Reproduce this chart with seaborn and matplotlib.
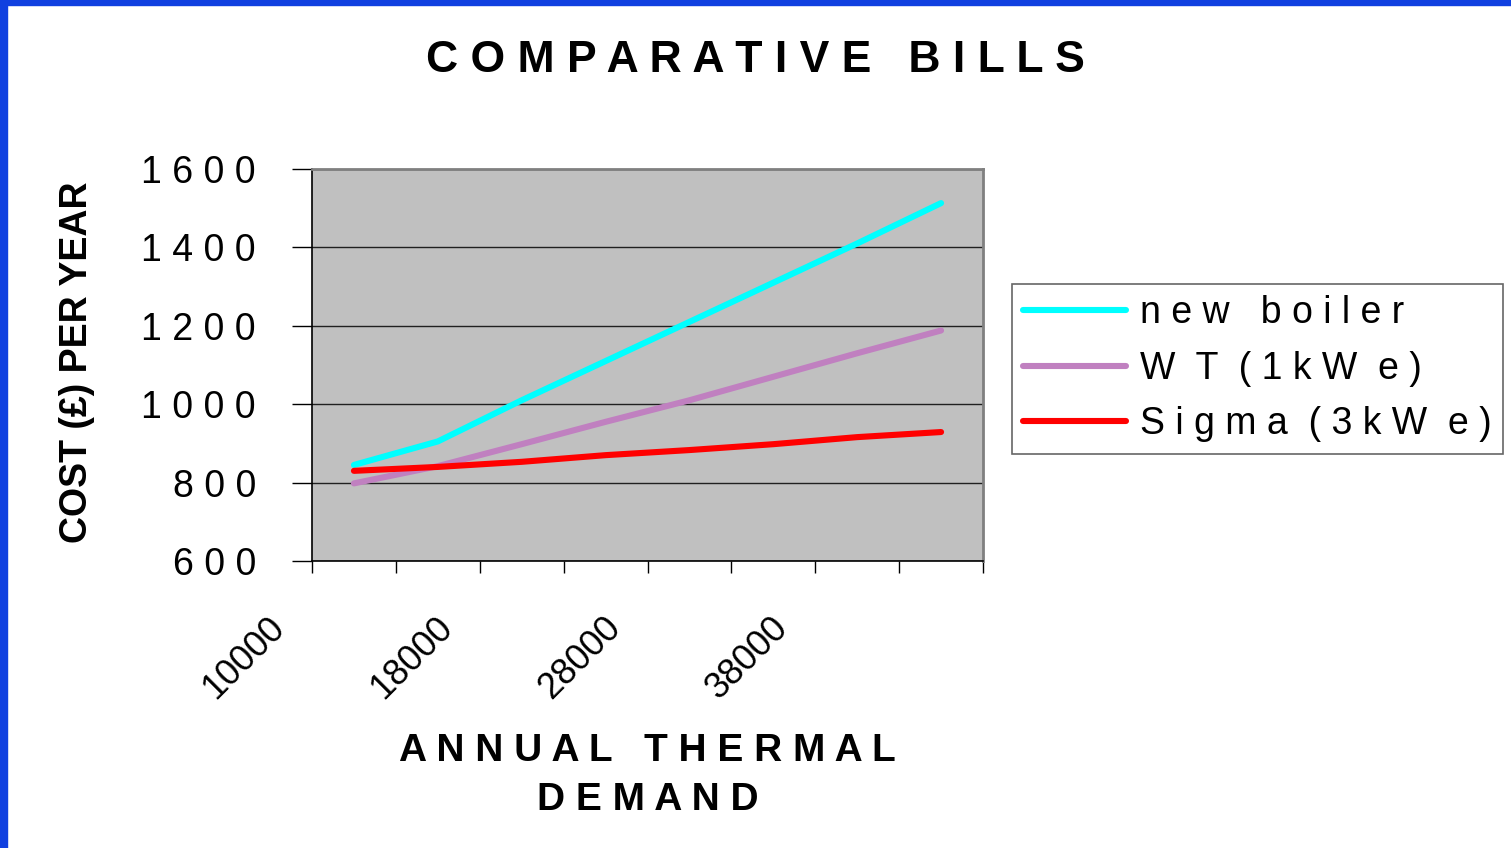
import pandas as pd
import numpy as np
import seaborn as sns
import matplotlib.pyplot as plt
from matplotlib.patches import Rectangle
from matplotlib.ticker import FuncFormatter, FixedLocator
from matplotlib.transforms import ScaledTranslation

# data
demand = [10000, 14000, 18000, 23000, 28000, 33000, 38000, 43000]
new_boiler = [845, 905, 1010, 1110, 1210, 1310, 1410, 1513]
wt_1kwe = [798, 842, 898, 955, 1010, 1070, 1130, 1188]
sigma_3kwe = [830, 840, 853, 870, 883, 898, 916, 929]
series_names = ["n e w   b o i l e r", "W  T  ( 1 k W  e )", "S i g m a  ( 3 k W  e )"]
colours = ["#00FFFF", "#C080C0", "#FF0000"]

pos = list(range(len(demand)))
df = pd.DataFrame({
    "pos": pos * 3,
    "demand": demand * 3,
    "cost": new_boiler + wt_1kwe + sigma_3kwe,
    "series": [series_names[0]] * 8 + [series_names[1]] * 8 + [series_names[2]] * 8,
})

sns.set_style("white")
plt.rcParams['font.family'] = ['Liberation Sans', 'DejaVu Sans']
plt.rcParams['text.color'] = 'black'
plt.rcParams['axes.labelcolor'] = 'black'
plt.rcParams['xtick.color'] = 'black'
plt.rcParams['ytick.color'] = 'black'

fig = plt.figure(figsize=(15.11, 8.48), dpi=100)
ax = fig.add_axes([312/1511, 1-561/848, (983-312)/1511, (561-169)/848])
ax.set_facecolor("#C0C0C0")

sns.lineplot(data=df, x="pos", y="cost", hue="series", palette=colours,
             linewidth=4.4, ax=ax)

ax.set_xlim(-0.5, len(demand) - 0.5)
ax.set_ylim(600, 1600)
ax.set_yticks(np.arange(600, 1601, 200))
ax.yaxis.set_major_formatter(FuncFormatter(lambda v, p: " ".join(str(int(v)))))
ax.yaxis.grid(True, color="#202020", linewidth=1)
ax.tick_params(axis="y", direction="out", length=14.4, width=1, color="black",
               pad=26, labelsize=27, left=True)

# category boundaries get the tick marks, every other category gets a label
ax.xaxis.set_major_locator(FixedLocator(np.arange(-0.5, len(demand), 1)))
ax.xaxis.set_major_formatter(FuncFormatter(lambda v, p: ""))
ax.xaxis.set_minor_locator(FixedLocator(pos[::2]))
ax.xaxis.set_minor_formatter(FuncFormatter(lambda v, p: str(demand[int(round(v))])))
ax.tick_params(axis="x", which="major", direction="out", length=8.6, width=1,
               color="black", bottom=True)
ax.tick_params(axis="x", which="minor", length=0, pad=35, labelsize=26)
shift = ScaledTranslation(-62/100, 0, fig.dpi_scale_trans)
for lab in ax.get_xticklabels(minor=True):
    lab.set_rotation(45)
    lab.set_ha("right")
    lab.set_va("top")
    lab.set_transform(lab.get_transform() + shift)

for side in ["left", "bottom"]:
    ax.spines[side].set_color("black")
    ax.spines[side].set_linewidth(1.2)
for side in ["top", "right"]:
    ax.spines[side].set_color("#808080")
    ax.spines[side].set_linewidth(2)

ax.set_xlabel("A N N U A L   T H E R M A L\nD E M A N D", fontsize=28,
              fontweight="bold", linespacing=1.45)
ax.xaxis.set_label_coords(0.5, (561-733)/392)
ax.xaxis.label.set_va("top")
ax.set_ylabel("COST (£) PER YEAR", fontsize=27, fontweight="bold")
ax.yaxis.set_label_coords((95-312)/671, (561-362)/392)

leg = ax.legend(loc="upper left", bbox_to_anchor=(1012/1511, 1-284/848),
                bbox_transform=fig.transFigure, fontsize=27, frameon=True,
                fancybox=False, edgecolor="#404040", handlelength=2.75,
                handletextpad=0.35, borderpad=0.3, labelspacing=0.52,
                borderaxespad=0)
leg.get_frame().set_linewidth(1.2)

fig.text(755/1511, 1-60/848, "C O M P A R A T I V E   B I L L S", ha="center",
         va="center", fontsize=32, fontweight="bold")

# blue slide border on the left and top
fig.patches.append(Rectangle((0, 0), 7/1511, 1, transform=fig.transFigure,
                             color="#1040E0", zorder=10))
fig.patches.append(Rectangle((0, 1-5/848), 1, 5/848, transform=fig.transFigure,
                             color="#1040E0", zorder=10))

fig.savefig("out.png", dpi=100)
